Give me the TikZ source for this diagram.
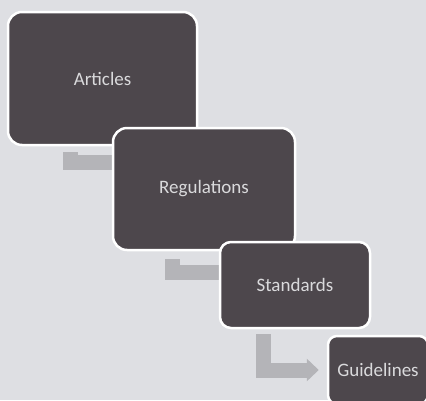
\documentclass[tikz,border=0pt]{standalone}
\usepackage{fontspec}
\setmainfont{Carlito}
\usetikzlibrary{positioning}
\usetikzlibrary{arrows.meta}
\definecolor{paper}{RGB}{222,223,227}
\definecolor{boxgray}{RGB}{77,71,76}
\definecolor{flowgray}{RGB}{180,180,184}
\definecolor{textgray}{RGB}{218,218,220}
\pgfdeclarelayer{paperlayer}
\pgfdeclarelayer{flowlayer}
\pgfsetlayers{paperlayer,flowlayer,main}

\begin{document}
\begin{tikzpicture}[x=1pt,y=-1pt,
 level/.style={rectangle,rounded corners=14pt,draw=white,line width=2.5pt,fill=boxgray,text=textgray,font=\fontsize{19}{22}\selectfont},
 flow/.style={flowgray,line width=15pt}]

\begin{pgfonlayer}{paperlayer}
\fill[paper] (0,0) rectangle (426,400);
\end{pgfonlayer}
\useasboundingbox (0,0) rectangle (426,400);

\node[level,minimum width=189pt,minimum height=133pt] (art) at (102.5,78.5) {Articles};
\node[level,minimum width=182pt,minimum height=122pt] (reg) at (204,189) {Regulations};
\node[level,minimum width=150pt,minimum height=86pt,rounded corners=11pt] (std) at (295,285) {Standards};
\node[level,minimum width=100pt,minimum height=68pt,rounded corners=9pt] (gdl) at (378,370) {Guidelines};

% the heads of the first two go under the next box
\begin{pgfonlayer}{flowlayer}
\draw[flow,shorten <=6pt] ([xshift=-32.5pt]art.south) |- ([yshift=27pt]reg.west);
\draw[flow,shorten <=8pt] ([xshift=-31.5pt]reg.south) |- ([yshift=13pt]std.west);
\draw[flow,shorten <=5pt,shorten >=8pt,-{Triangle[width=22pt,length=12pt]}] ([xshift=-32pt]std.south) |- (gdl.west);
\end{pgfonlayer}

\end{tikzpicture}
\end{document}
